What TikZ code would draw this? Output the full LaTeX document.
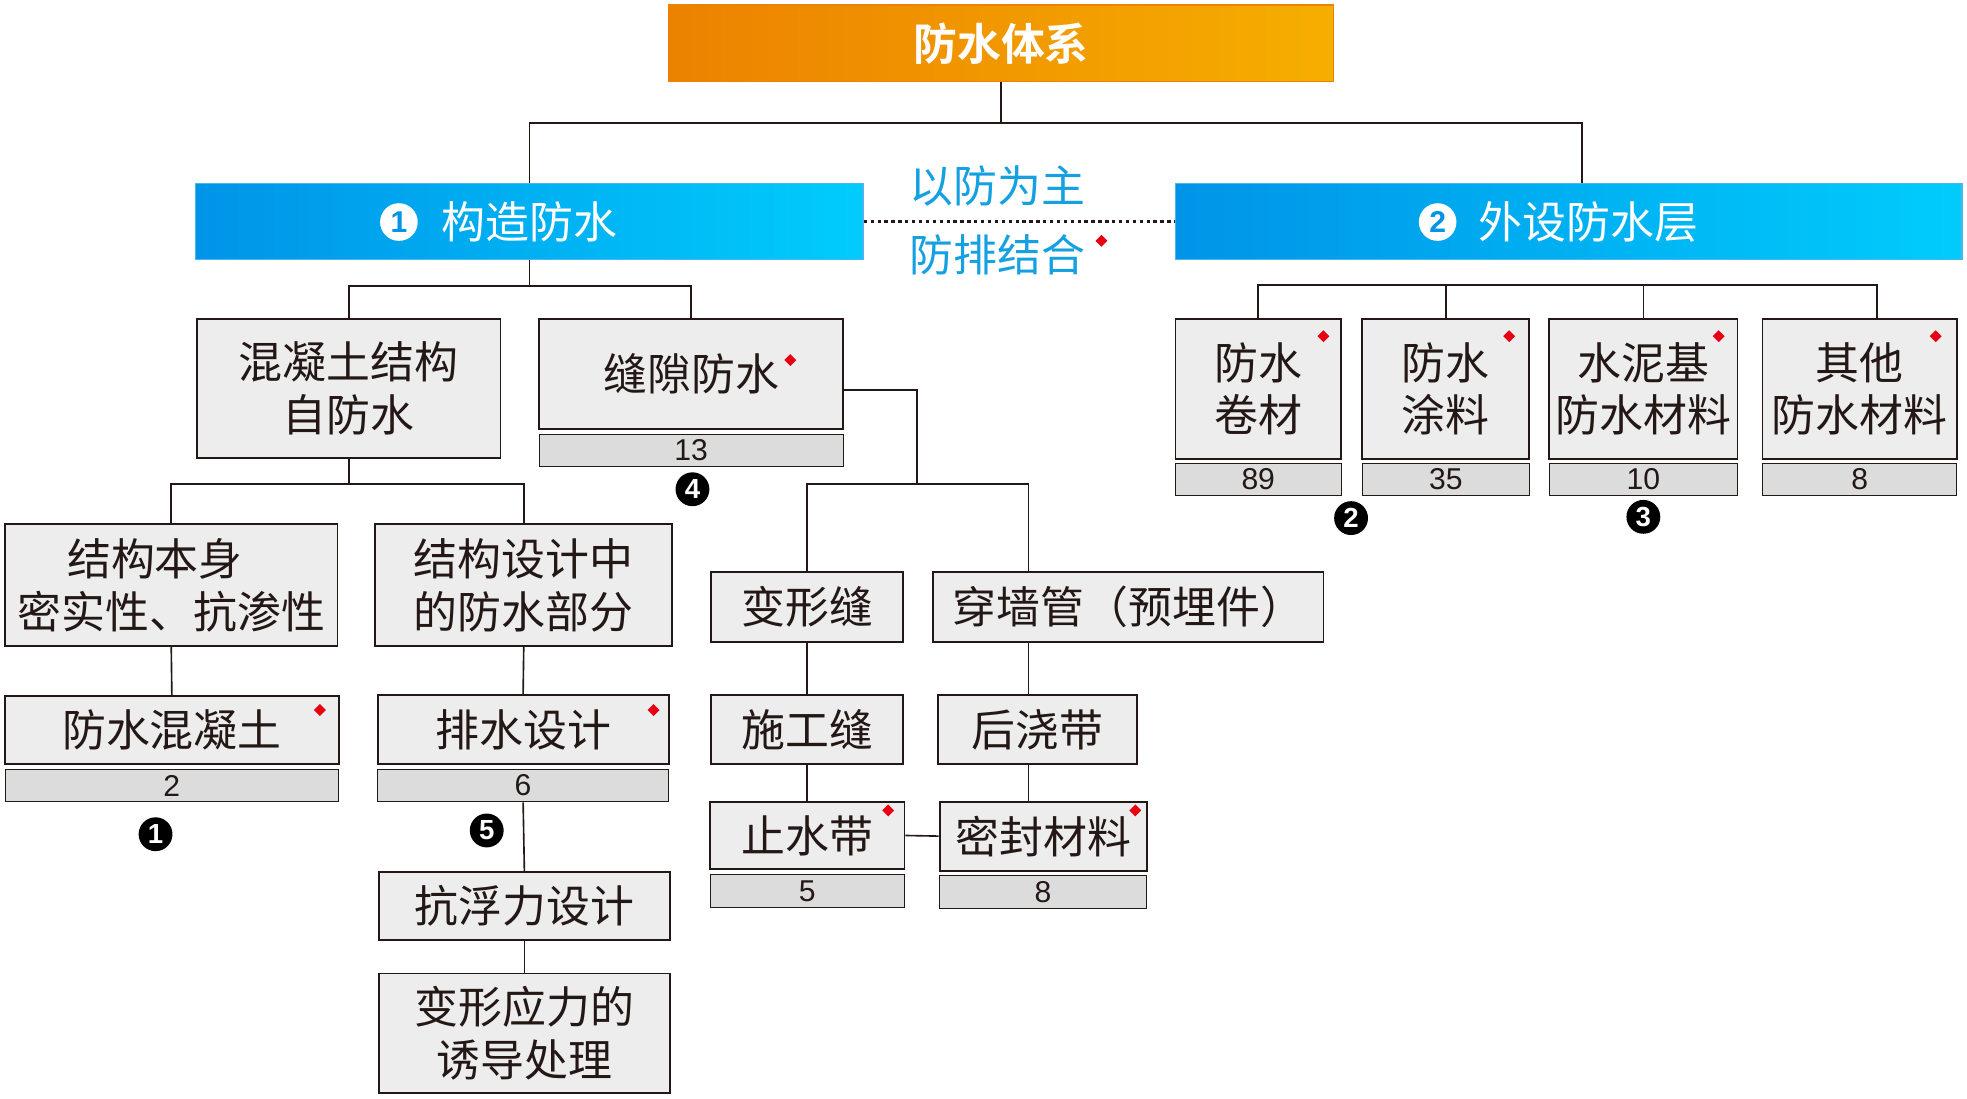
\documentclass[tikz,border=0pt]{standalone}
\usepackage{fontspec}
\newfontfamily\cjk[BoldFont={Noto Sans CJK SC Bold}]{Noto Sans CJK SC}
\newfontfamily\numfnt{Liberation Sans}
\usetikzlibrary{calc,positioning,shapes.geometric}
\definecolor{ink}{RGB}{35,24,21}
\definecolor{boxg}{RGB}{237,237,237}
\definecolor{barg}{RGB}{220,220,220}
\definecolor{redd}{RGB}{230,0,18}
\definecolor{skyc}{RGB}{20,160,225}
\definecolor{orL}{RGB}{236,130,0}
\definecolor{orR}{RGB}{246,174,0}
\definecolor{blL}{RGB}{0,148,232}
\definecolor{blR}{RGB}{0,204,252}
\tikzset{>=stealth}
\tikzset{
  cbox/.style={draw=ink,line width=1.5pt,fill=boxg,inner sep=0pt,align=center,text=ink,
    font=\cjk\fontsize{35}{42}\selectfont},
  numbar/.style={draw=ink,line width=.8pt,fill=barg,inner sep=0pt,text=ink,minimum height=26pt,
    font=\numfnt\fontsize{24}{24}\selectfont},
  topbox/.style={draw=orL,line width=1pt,left color=orL,right color=orR,inner sep=0pt,text=white,
    font=\cjk\bfseries\fontsize{35}{42}\selectfont},
  bluebox/.style={draw=blL!70!white,line width=1pt,left color=blL,right color=blR,inner sep=0pt,
    text=white,font=\cjk\fontsize{35}{42}\selectfont},
  bluetxt/.style={text=white,inner sep=0pt,font=\cjk\fontsize{35}{42}\selectfont},
  wcirc/.style={circle,fill=white,inner sep=0pt,minimum size=30pt,text=blL,
    font=\numfnt\bfseries\fontsize{24}{24}\selectfont},
  bcirc/.style={circle,fill=black,inner sep=0pt,minimum size=27pt,text=white,
    font=\numfnt\bfseries\fontsize{22}{22}\selectfont},
  reddot/.style={diamond,fill=redd,inner sep=0pt,minimum size=10pt},
  motto/.style={text=skyc,inner sep=0pt,font=\cjk\fontsize{35}{42}\selectfont}
}
\begin{document}
\begin{tikzpicture}[x=1pt,y=-1pt,color=ink,line width=1.3pt]
\useasboundingbox (0,0) rectangle (1568,876);
% top levels
\node[topbox,minimum width=530pt,minimum height=61pt] (top) at (798,34.5) {防水体系};
\node[bluebox,minimum width=532pt,minimum height=61pt] (gz) at (422,176.5) {构造防水};
\node[wcirc] (w1) at (318,177) {1};
\node[bluebox,minimum width=627pt,minimum height=61pt] (wf) at (1250.5,176.5) {};
\node[bluetxt] (wft) at (1266,177) {外设防水层};
\node[wcirc] (w2) at (1146,177) {2};
\coordinate (b0) at (798,98);
\draw (top.south) -- (b0);
\draw (gz.north) |- (b0) -| ($(wf.north)+(10.5,0)$);
\draw[line width=2.7pt,dash pattern=on 2.7pt off 2.8pt] (gz.east) -- (wf.west);
\node[motto] (m1) at (795,148) {以防为主};
\node[motto] (m2) at (795,203) {防排结合};
\node[reddot] (r0) at (878,192) {};

% left branch
\node[cbox,minimum width=242pt,minimum height=111pt] (hnt) at (278,309.5) {混凝土结构\\自防水};
\node[cbox,minimum width=242pt,minimum height=88pt] (fx) at (551,298) {缝隙防水};
\node[numbar,minimum width=242pt,below=3pt of fx] (fxn) {13};
\node[reddot] (r1) at (630,287) {};
\node[bcirc] (k4) at (552,390) {4};
\coordinate (b1) at (422,228);
\draw (gz.south) -- (b1);
\draw (hnt.north) |- (b1) -| (fx.north);

\node[cbox,minimum width=265pt,minimum height=97pt] (jg) at (136.5,466.5) {结构本身\hspace*{26pt}\\密实性、抗渗性};
\node[cbox,minimum width=237pt,minimum height=97pt] (sj) at (417.5,466.5) {结构设计中\\的防水部分};
\coordinate (b2) at (278,386);
\draw (hnt.south) -- (b2);
\draw (jg.north) |- (b2) -| (sj.north);

\node[cbox,minimum width=266pt,minimum height=54pt] (fs) at (137,582) {防水混凝土};
\node[numbar,minimum width=266pt,below=3pt of fs] (fsn) {2};
\node[reddot] (r2) at (255,566) {};
\node[bcirc] (k1) at (124,665) {1};
\node[cbox,minimum width=232pt,minimum height=55pt] (ps) at (417,581.5) {排水设计};
\node[numbar,minimum width=232pt,below=3pt of ps] (psn) {6};
\node[reddot] (r3) at (521,566) {};
\node[bcirc] (k5) at (388,662) {5};
\draw (jg.south) -- (fs.north);
\draw (sj.south) -- (ps.north);

\node[cbox,minimum width=232pt,minimum height=54pt] (kf) at (418,722) {抗浮力设计};
\node[cbox,minimum width=232pt,minimum height=95pt] (bx) at (418,823.5) {变形应力的\\诱导处理};
\draw (psn.south) -- (kf.north);
\draw (kf.south) -- (bx.north);

% joints
\node[cbox,minimum width=153pt,minimum height=56pt] (bxf) at (643.5,484) {变形缝};
\node[cbox,minimum width=311pt,minimum height=56pt] (cqg) at (899.5,484) {穿墙管（预埋件）};
\coordinate (b3) at (731,386);
\coordinate (c3) at (820,0);
\draw ($(fx.east)+(0,13)$) -| (b3);
\draw (bxf.north) |- (b3) -| (cqg.north -| c3);

\node[cbox,minimum width=153pt,minimum height=55pt] (sgf) at (643.5,581.5) {施工缝};
\node[cbox,minimum width=158pt,minimum height=55pt] (hjd) at (827,581.5) {后浇带};
\draw (bxf.south) -- (sgf.north);
\draw (cqg.south -| c3) -- (hjd.north -| c3);

\node[cbox,minimum width=155pt,minimum height=54pt] (zsd) at (643.5,666) {止水带};
\node[numbar,minimum width=155pt,below=3pt of zsd] (zsdn) {5};
\node[reddot] (r4) at (708,646) {};
\node[cbox,minimum width=165pt,minimum height=55pt] (mf) at (831.5,666.5) {密封材料};
\node[numbar,minimum width=165pt,below=3pt of mf] (mfn) {8};
\node[reddot] (r5) at (905,646) {};
\draw (sgf.south) -- (zsd.north);
\draw (hjd.south -| c3) -- (mf.north -| c3);
\draw (zsd.east) -- (mf.west);

% right branch
\node[cbox,minimum width=132pt,minimum height=112pt] (jc) at (1003,310) {防水\\卷材};
\node[numbar,minimum width=132pt,below=2pt of jc] (jcn) {89};
\node[cbox,minimum width=133pt,minimum height=112pt] (tl) at (1152.5,310) {防水\\涂料};
\node[numbar,minimum width=133pt,below=2pt of tl] (tln) {35};
\node[cbox,minimum width=150pt,minimum height=112pt] (sn) at (1310,310) {水泥基\\防水材料};
\node[numbar,minimum width=150pt,below=2pt of sn] (snn) {10};
\node[cbox,minimum width=155pt,minimum height=112pt] (qt) at (1482.5,310) {其他\\防水材料};
\node[numbar,minimum width=155pt,below=2pt of qt] (qtn) {8};
\node[reddot] (r6) at (1055,268) {};
\node[reddot] (r7) at (1203,268) {};
\node[reddot] (r8) at (1370,268) {};
\node[reddot] (r9) at (1543,268) {};
\node[bcirc] (k2) at (1077,413) {2};
\node[bcirc] (k3) at (1310,412) {3};
\coordinate (b4) at (1496,227);
\draw (jc.north) |- (b4) -- (qt.north -| b4);
\draw (tl.north) -- (tl.north |- b4);
\draw (sn.north) -- (sn.north |- b4);
\end{tikzpicture}
\end{document}
